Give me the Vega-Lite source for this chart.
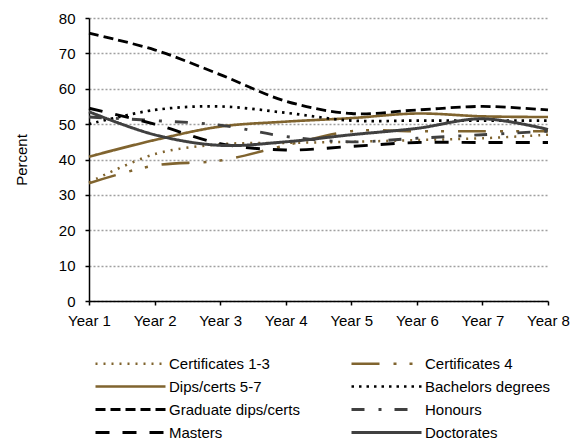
{
  "$schema": "https://vega.github.io/schema/vega-lite/v6.json",
  "autosize": {"type": "none"},
  "width": 459,
  "height": 283,
  "padding": {"left": 89, "top": 18, "right": 37, "bottom": 138},
  "background": "white",
  "config": {
    "view": {"stroke": null},
    "font": "Liberation Sans",
    "axis": {"labelFont": "Liberation Sans", "titleFont": "Liberation Sans", "labelColor": "black", "titleColor": "black"},
    "legend": {"labelFont": "Liberation Sans"}
  },
  "data": {
    "values": [
      {"year": "Year 1", "series": "Certificates 1-3", "value": 33.5},
      {"year": "Year 2", "series": "Certificates 1-3", "value": 41.5},
      {"year": "Year 3", "series": "Certificates 1-3", "value": 44.3},
      {"year": "Year 4", "series": "Certificates 1-3", "value": 44.7},
      {"year": "Year 5", "series": "Certificates 1-3", "value": 45},
      {"year": "Year 6", "series": "Certificates 1-3", "value": 45.5},
      {"year": "Year 7", "series": "Certificates 1-3", "value": 46},
      {"year": "Year 8", "series": "Certificates 1-3", "value": 47},
      {"year": "Year 1", "series": "Certificates 4", "value": 33.3},
      {"year": "Year 2", "series": "Certificates 4", "value": 38.3},
      {"year": "Year 3", "series": "Certificates 4", "value": 39.7},
      {"year": "Year 4", "series": "Certificates 4", "value": 44},
      {"year": "Year 5", "series": "Certificates 4", "value": 48},
      {"year": "Year 6", "series": "Certificates 4", "value": 48},
      {"year": "Year 7", "series": "Certificates 4", "value": 48},
      {"year": "Year 8", "series": "Certificates 4", "value": 48},
      {"year": "Year 1", "series": "Dips/certs 5-7", "value": 40.8},
      {"year": "Year 2", "series": "Dips/certs 5-7", "value": 45.5},
      {"year": "Year 3", "series": "Dips/certs 5-7", "value": 49.3},
      {"year": "Year 4", "series": "Dips/certs 5-7", "value": 50.7},
      {"year": "Year 5", "series": "Dips/certs 5-7", "value": 51.7},
      {"year": "Year 6", "series": "Dips/certs 5-7", "value": 53},
      {"year": "Year 7", "series": "Dips/certs 5-7", "value": 52.2},
      {"year": "Year 8", "series": "Dips/certs 5-7", "value": 52},
      {"year": "Year 1", "series": "Bachelors degrees", "value": 50},
      {"year": "Year 2", "series": "Bachelors degrees", "value": 54},
      {"year": "Year 3", "series": "Bachelors degrees", "value": 55},
      {"year": "Year 4", "series": "Bachelors degrees", "value": 53.2},
      {"year": "Year 5", "series": "Bachelors degrees", "value": 51},
      {"year": "Year 6", "series": "Bachelors degrees", "value": 51},
      {"year": "Year 7", "series": "Bachelors degrees", "value": 51},
      {"year": "Year 8", "series": "Bachelors degrees", "value": 51},
      {"year": "Year 1", "series": "Graduate dips/certs", "value": 75.7},
      {"year": "Year 2", "series": "Graduate dips/certs", "value": 71},
      {"year": "Year 3", "series": "Graduate dips/certs", "value": 64},
      {"year": "Year 4", "series": "Graduate dips/certs", "value": 56.5},
      {"year": "Year 5", "series": "Graduate dips/certs", "value": 53},
      {"year": "Year 6", "series": "Graduate dips/certs", "value": 54},
      {"year": "Year 7", "series": "Graduate dips/certs", "value": 55},
      {"year": "Year 8", "series": "Graduate dips/certs", "value": 54},
      {"year": "Year 1", "series": "Honours", "value": 52},
      {"year": "Year 2", "series": "Honours", "value": 51},
      {"year": "Year 3", "series": "Honours", "value": 49.7},
      {"year": "Year 4", "series": "Honours", "value": 46.5},
      {"year": "Year 5", "series": "Honours", "value": 45},
      {"year": "Year 6", "series": "Honours", "value": 46},
      {"year": "Year 7", "series": "Honours", "value": 47},
      {"year": "Year 8", "series": "Honours", "value": 48},
      {"year": "Year 1", "series": "Masters", "value": 54.5},
      {"year": "Year 2", "series": "Masters", "value": 50},
      {"year": "Year 3", "series": "Masters", "value": 44.5},
      {"year": "Year 4", "series": "Masters", "value": 42.7},
      {"year": "Year 5", "series": "Masters", "value": 43.7},
      {"year": "Year 6", "series": "Masters", "value": 44.8},
      {"year": "Year 7", "series": "Masters", "value": 44.8},
      {"year": "Year 8", "series": "Masters", "value": 44.8},
      {"year": "Year 1", "series": "Doctorates", "value": 53.5},
      {"year": "Year 2", "series": "Doctorates", "value": 47},
      {"year": "Year 3", "series": "Doctorates", "value": 44},
      {"year": "Year 4", "series": "Doctorates", "value": 45},
      {"year": "Year 5", "series": "Doctorates", "value": 47},
      {"year": "Year 6", "series": "Doctorates", "value": 48.8},
      {"year": "Year 7", "series": "Doctorates", "value": 51.5},
      {"year": "Year 8", "series": "Doctorates", "value": 48.5}
    ]
  },
  "mark": {"type": "line", "interpolate": "catmull-rom", "strokeCap": "butt"},
  "encoding": {
    "x": {
      "field": "year", "type": "ordinal",
      "scale": {"type": "point", "padding": 0},
      "axis": {
        "title": null, "labelAngle": 0, "labelFontSize": 15, "labelPadding": 8,
        "domainColor": "black", "domainWidth": 1.5, "tickColor": "black", "tickWidth": 1.5, "tickSize": 4,
        "grid": false
      }
    },
    "y": {
      "field": "value", "type": "quantitative",
      "scale": {"domain": [0, 80], "nice": false, "zero": true},
      "axis": {
        "title": "Percent", "titleFontSize": 15, "titleFontWeight": "normal", "titlePadding": 29,
        "values": [0, 10, 20, 30, 40, 50, 60, 70, 80],
        "labelFontSize": 15, "labelPadding": 10,
        "domainColor": "black", "domainWidth": 1.5, "tickColor": "black", "tickWidth": 1.5, "tickSize": 4,
        "grid": true, "gridColor": "#a0a0a0", "gridDash": [2, 2], "gridWidth": 1.5
      }
    },
    "color": {
      "field": "series", "type": "nominal",
      "scale": {
        "domain": ["Certificates 1-3", "Certificates 4", "Dips/certs 5-7", "Bachelors degrees", "Graduate dips/certs", "Honours", "Masters", "Doctorates"],
        "range": ["#80642f", "#80642f", "#80642f", "#000000", "#000000", "#404040", "#000000", "#404040"]
      },
      "legend": {
        "title": null, "orient": "none", "direction": "horizontal", "legendX": 34, "legendY": 338, "columns": 2,
        "symbolType": "M-7,0H7", "symbolSize": 100, "labelFontSize": 15, "labelOffset": 31,
        "columnPadding": 45, "rowPadding": 7, "labelColor": "black"
      }
    },
    "strokeDash": {
      "field": "series", "type": "nominal",
      "scale": {
        "domain": ["Certificates 1-3", "Certificates 4", "Dips/certs 5-7", "Bachelors degrees", "Graduate dips/certs", "Honours", "Masters", "Doctorates"],
        "range": [[2, 6], [28, 14, 3, 13, 3, 14], [1, 0], [2.5, 5], [10, 5], [13, 14, 3, 13], [14, 13], [1, 0]]
      },
      "legend": null
    },
    "strokeWidth": {
      "field": "series", "type": "nominal",
      "scale": {
        "domain": ["Certificates 1-3", "Certificates 4", "Dips/certs 5-7", "Bachelors degrees", "Graduate dips/certs", "Honours", "Masters", "Doctorates"],
        "range": [2.5, 3, 3, 2.5, 3.5, 3, 3.5, 2.5]
      },
      "legend": null
    }
  }
}
